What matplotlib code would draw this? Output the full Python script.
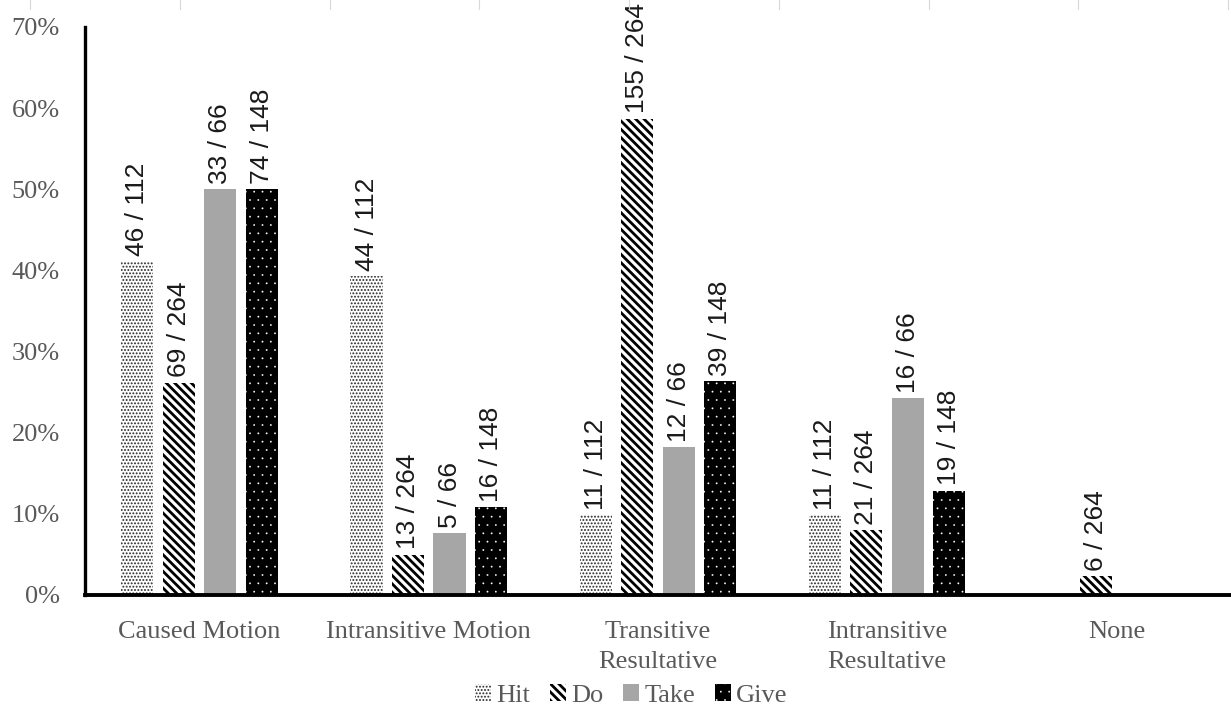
import numpy as np
import matplotlib
matplotlib.use("Agg")
import matplotlib.pyplot as plt
from matplotlib.patches import Patch
from matplotlib.lines import Line2D
from matplotlib.ticker import PercentFormatter

categories = ["Caused Motion", "Intransitive Motion", "Transitive\nResultative",
              "Intransitive\nResultative", "None"]
series = ["Hit", "Do", "Take", "Give"]
totals = {"Hit": 112, "Do": 264, "Take": 66, "Give": 148}
counts = {
    "Hit":  [46, 44, 11, 11, 0],
    "Do":   [69, 13, 155, 21, 6],
    "Take": [33, 5, 12, 16, 0],
    "Give": [74, 16, 39, 19, 0],
}
yticks = [0, 10, 20, 30, 40, 50, 60, 70]

styles = {
    "Hit":  dict(facecolor="white", edgecolor="#262626", hatch=".....", hlw=0.9),
    "Do":   dict(facecolor="white", edgecolor="black", hatch="\\\\\\\\", hlw=2.0),
    "Take": dict(facecolor="#a6a6a6", edgecolor="#a6a6a6", hatch=None, hlw=1.0),
    "Give": dict(facecolor="black", edgecolor="white", hatch="..", hlw=0.1),
}

serif = "Liberation Serif"
sans = "Liberation Sans"
gray = "#595959"

fig = plt.figure(figsize=(12.31, 7.09), dpi=100)
ax = fig.add_axes([0.069, 0.161, 0.931, 0.801])

x = np.arange(len(categories))
pitch = 0.181
width = 0.14
offsets = (np.arange(len(series)) - 1.5) * pitch


def apply_hlw(patch, lw):
    try:
        patch.set_hatch_linewidth(lw)
    except Exception:
        pass


for i, s in enumerate(series):
    st = styles[s]
    vals = np.array(counts[s]) / totals[s] * 100
    plt.rcParams["hatch.linewidth"] = st["hlw"]
    bars = ax.bar(x + offsets[i], vals, width, facecolor=st["facecolor"],
                  edgecolor=st["edgecolor"], hatch=st["hatch"], linewidth=0, zorder=2)
    for b in bars:
        apply_hlw(b, st["hlw"])
    for xi, v, c in zip(x + offsets[i], vals, counts[s]):
        if c == 0:
            continue
        ax.annotate(f"{c} / {totals[s]}", (xi, v), xytext=(0, 4),
                    textcoords="offset points", rotation=90, ha="center", va="bottom",
                    fontsize=19, family=sans, color="#1a1a1a")

ax.set_xlim(-0.5, len(categories) - 0.5)
ax.set_ylim(0, 70)
ax.set_yticks(yticks)
ax.yaxis.set_major_formatter(PercentFormatter(decimals=0))
ax.set_xticks(x)
ax.set_xticklabels(categories, family=serif, fontsize=19, color=gray, linespacing=1.45)
for lab in ax.get_yticklabels():
    lab.set_family(serif)
    lab.set_fontsize(19)
    lab.set_color(gray)
ax.tick_params(axis="y", length=0, pad=18)
ax.tick_params(axis="x", length=0, pad=19)

for sp in ["top", "right"]:
    ax.spines[sp].set_visible(False)
ax.spines["left"].set_linewidth(2.4)
ax.spines["bottom"].set_linewidth(2.8)
ax.spines["left"].set_zorder(3)
ax.spines["bottom"].set_zorder(3)

# Legend
plt.rcParams["hatch.linewidth"] = 1.0
handles = []
for s in series:
    st = styles[s]
    p = Patch(facecolor=st["facecolor"], edgecolor=st["edgecolor"],
              hatch=st["hatch"], linewidth=0)
    apply_hlw(p, st["hlw"])
    handles.append(p)
leg = fig.legend(handles, series, loc="lower center", bbox_to_anchor=(0.513, -0.03),
                 ncol=4, frameon=False, handlelength=0.6, handleheight=0.6,
                 handletextpad=0.2, columnspacing=0.75,
                 prop={"family": serif, "size": 19})
for t in leg.get_texts():
    t.set_color(gray)
for p, s in zip(leg.get_patches(), series):
    apply_hlw(p, styles[s]["hlw"])

# faint marks along the top edge
for xp in 30 + 149.75 * np.arange(9):
    fig.add_artist(Line2D([xp / 1231, xp / 1231], [1.0, 1 - 9 / 709],
                          transform=fig.transFigure, color="#d9d9d9", lw=0.8))

fig.savefig("out.png", dpi=100)
